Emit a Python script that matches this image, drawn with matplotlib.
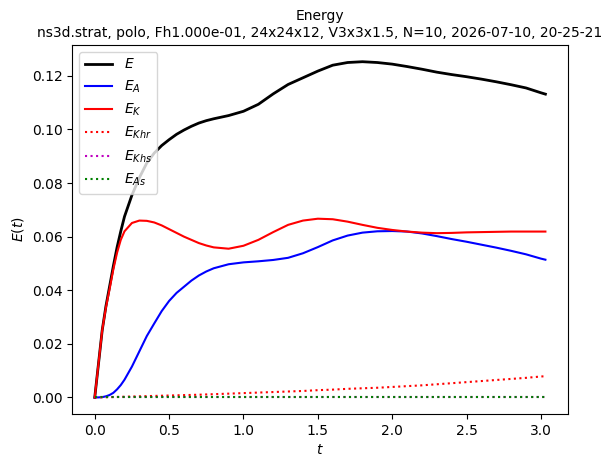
import matplotlib
matplotlib.use("Agg")
import matplotlib.pyplot as plt

t = [0.0, 0.025, 0.05, 0.075, 0.1, 0.125, 0.15, 0.175, 0.2,
     0.25, 0.3, 0.35, 0.4, 0.45, 0.5, 0.55, 0.6, 0.65, 0.7, 0.75, 0.8,
     0.9, 1.0, 1.1, 1.2, 1.3, 1.4, 1.5, 1.6, 1.7, 1.8, 1.9,
     2.0, 2.1, 2.2, 2.3, 2.4, 2.5, 2.6, 2.7, 2.8, 2.9, 3.0, 3.03]

E = [0.0, 0.0125, 0.0250, 0.0340, 0.0415, 0.0490, 0.0560, 0.0620, 0.0675,
     0.0755, 0.0820, 0.0875, 0.0912, 0.0940, 0.0962, 0.0982, 0.0998, 0.1012, 0.1024, 0.1033, 0.1040,
     0.1052, 0.1068, 0.1094, 0.1133, 0.1168, 0.1193, 0.1218, 0.1240, 0.1250, 0.1253, 0.1250,
     0.1244, 0.1235, 0.1225, 0.1214, 0.1205, 0.1197, 0.1188, 0.1178, 0.1167, 0.1155, 0.1137, 0.1132]

E_A = [0.0, 0.0, 0.0001, 0.0004, 0.0009, 0.0017, 0.0030, 0.0046, 0.0066,
       0.0115, 0.0172, 0.0229, 0.0276, 0.0322, 0.0360, 0.0390, 0.0413, 0.0436, 0.0455, 0.0470, 0.0482,
       0.0497, 0.0504, 0.0508, 0.0513, 0.0521, 0.0538, 0.0561, 0.0586, 0.0604, 0.0615, 0.0620,
       0.0621, 0.0619, 0.0612, 0.0602, 0.0591, 0.0581, 0.0570, 0.0559, 0.0547, 0.0534, 0.0518, 0.0514]

E_K = [0.0, 0.0125, 0.0250, 0.0335, 0.0405, 0.0478, 0.0540, 0.0588, 0.0620,
       0.0651, 0.0660, 0.0659, 0.0653, 0.0642, 0.0628, 0.0614, 0.0600, 0.0588, 0.0576, 0.0567, 0.0560,
       0.0555, 0.0566, 0.0588, 0.0617, 0.0644, 0.0660, 0.0667, 0.0665, 0.0656, 0.0644, 0.0633,
       0.0625, 0.0619, 0.0615, 0.0613, 0.0614, 0.0616, 0.0617, 0.0618, 0.0619, 0.0619, 0.0619, 0.0619]

E_Khr = [0.0, 0.00001, 0.00003, 0.00006, 0.0001, 0.00013, 0.00016, 0.0002, 0.00025,
         0.00032, 0.0004, 0.00047, 0.00055, 0.00062, 0.0007, 0.00077, 0.00085, 0.00092, 0.001, 0.0011, 0.0012,
         0.0014, 0.0016, 0.0018, 0.002, 0.0022, 0.0024, 0.0027, 0.0029, 0.0032, 0.0034, 0.0036,
         0.0039, 0.0042, 0.0045, 0.0049, 0.0053, 0.0057, 0.0061, 0.0065, 0.0069, 0.0073, 0.0078, 0.0079]

E_Khs = [0.0, 0.0, 0.0, 0.0, 0.0, 0.0, 0.0, 0.0, 0.0,
         0.0, 0.0, 0.0, 0.0, 0.0, 0.0, 0.0, 0.0, 0.0, 0.0, 0.0, 0.0,
         0.0, 0.0, 0.0, 0.0, 0.0, 0.0, 0.0, 0.0, 0.0, 0.0, 0.0,
         0.0, 0.0, 0.0, 0.0, 0.0, 0.0, 0.0, 0.0, 0.0, 0.0, 0.0, 0.0]

E_As = [0.0, 0.0, 0.0, 0.0, 0.0, 0.0, 0.0, 0.0, 0.0,
        0.0, 0.0, 0.0, 0.0, 0.0, 0.0, 0.0, 0.0, 0.0, 0.0, 0.0, 0.0,
        0.0, 0.0, 0.0, 0.0, 0.0, 0.0, 0.0, 0.0, 0.0, 0.0, 0.0,
        0.0, 0.0, 0.0, 0.0, 0.0, 0.0, 0.0, 0.0, 0.0, 0.0, 0.0, 0.0]

title = "Energy\nns3d.strat, polo, Fh1.000e-01, 24x24x12, V3x3x1.5, N=10, 2026-07-10, 20-25-21"

fig = plt.figure(figsize=(6.12, 4.68), dpi=100)
ax = fig.add_axes([0.118, 0.115, 0.810, 0.789])

ax.plot(t, E, "k", linewidth=2, label="$E$")
ax.plot(t, E_A, "b", label="$E_A$")
ax.plot(t, E_K, "r", label="$E_K$")
ax.plot(t, E_Khr, "r:", label="$E_{Khr}$")
ax.plot(t, E_Khs, "m:", label="$E_{Khs}$")
ax.plot(t, E_As, "g:", label="$E_{As}$")

ax.set_xlabel("$t$")
ax.set_ylabel("$E(t)$")
ax.set_title(title, fontsize=10)
ax.legend(loc="upper left")

fig.savefig("out.png", dpi=100)
